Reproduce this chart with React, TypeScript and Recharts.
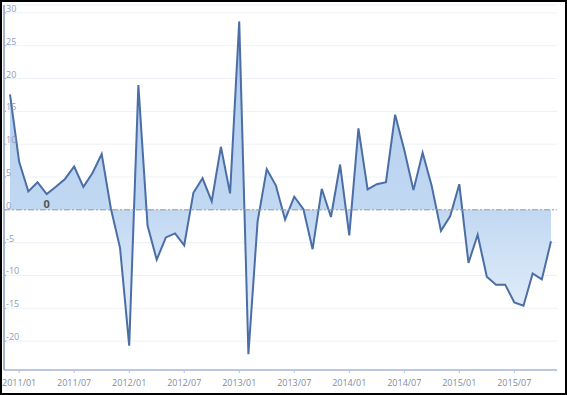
import { AreaChart, Area, XAxis, YAxis, CartesianGrid, ReferenceLine, LabelList } from 'recharts';

const months = [
  '2010/12',
  '2011/01', '2011/02', '2011/03', '2011/04', '2011/05', '2011/06', '2011/07', '2011/08', '2011/09', '2011/10', '2011/11', '2011/12',
  '2012/01', '2012/02', '2012/03', '2012/04', '2012/05', '2012/06', '2012/07', '2012/08', '2012/09', '2012/10', '2012/11', '2012/12',
  '2013/01', '2013/02', '2013/03', '2013/04', '2013/05', '2013/06', '2013/07', '2013/08', '2013/09', '2013/10', '2013/11', '2013/12',
  '2014/01', '2014/02', '2014/03', '2014/04', '2014/05', '2014/06', '2014/07', '2014/08', '2014/09', '2014/10', '2014/11', '2014/12',
  '2015/01', '2015/02', '2015/03', '2015/04', '2015/05', '2015/06', '2015/07', '2015/08', '2015/09', '2015/10', '2015/11',
];

const growth = [
  17.6,
  7.3, 2.8, 4.2, 2.4, 3.5, 4.7, 6.6, 3.5, 5.6, 8.5, 0.2, -5.8,
  -20.7, 19.0, -2.4, -7.6, -4.2, -3.6, -5.4, 2.6, 4.8, 1.3, 9.6, 2.5,
  28.7, -22.0, -1.8, 6.2, 3.7, -1.5, 2.0, 0.1, -6.0, 3.2, -1.1, 6.9,
  -3.9, 12.4, 3.1, 3.9, 4.2, 14.5, 9.1, 3.0, 8.7, 3.6, -3.2, -1.0,
  3.9, -8.1, -3.8, -10.2, -11.4, -11.4, -14.1, -14.6, -9.7, -10.6, -4.8,
];

const xTicks = ['2011/01', '2011/07', '2012/01', '2012/07', '2013/01', '2013/07', '2014/01', '2014/07', '2015/01', '2015/07'];
const yTicks = [-20, -15, -10, -5, 0, 5, 10, 15, 20, 25, 30];

const data = months.map((month, i) => ({ month, value: growth[i] }));

const font = '"Open Sans", "Noto Sans", sans-serif';

const YTick = ({ x, y, payload }: any) => (
  <g>
    <line x1={x} x2={x + 2} y1={y} y2={y} stroke="#9aabcb" />
    <text x={x + 2} y={y - 1} fontSize={9} fill="#8c9dc2" fontFamily={font} textAnchor="start">
      {payload.value}
    </text>
  </g>
);

// the lone bold "0" sitting under the April 2011 point
const PointNote = (props: any) => {
  const { x, y, index } = props;
  if (index !== 4) return null;
  return (
    <text x={x} y={y + 14} textAnchor="middle" fontSize={11} fontWeight="bold" fill="#555" fontFamily={font}>
      0
    </text>
  );
};

export default function App() {
  return (
    <div
      style={{
        position: 'absolute',
        left: 0,
        top: 0,
        width: 567,
        height: 395,
        boxSizing: 'border-box',
        border: '2px solid #000',
        background: '#fff',
      }}
    >
      <AreaChart width={563} height={391} data={data} margin={{ top: 3, right: 8, bottom: 3, left: 0 }}>
        <defs>
          <linearGradient id="areaFill" x1="0" y1="0" x2="0" y2="1">
            <stop offset="0%" stopColor="#aecbed" />
            <stop offset="56%" stopColor="#c1d8f2" />
            <stop offset="100%" stopColor="#eef4fc" />
          </linearGradient>
        </defs>
        <CartesianGrid vertical={false} stroke="#edf1f7" />
        <XAxis
          dataKey="month"
          ticks={xTicks}
          interval={0}
          padding={{ left: 6, right: 6 }}
          height={20}
          tickSize={3}
          tickMargin={7}
          axisLine={{ stroke: '#a7b8d8', strokeWidth: 1.5 }}
          tickLine={{ stroke: '#b5c3dd' }}
          tick={{ fontSize: 9, fill: '#7f8ca3', fontFamily: font }}
        />
        <YAxis
          type="number"
          domain={[-24.4, 31.2]}
          ticks={yTicks}
          width={2}
          tickSize={0}
          tickMargin={0}
          tickLine={false}
          axisLine={{ stroke: '#8a9bbf', strokeWidth: 1.5 }}
          tick={<YTick />}
        />
        <ReferenceLine y={0} stroke="#9a9a9a" strokeDasharray="6 2 2 2" />
        <Area
          type="linear"
          dataKey="value"
          baseValue={0}
          stroke="#4a6ea5"
          strokeWidth={2}
          fill="url(#areaFill)"
          fillOpacity={1}
          dot={false}
          activeDot={false}
          isAnimationActive={false}
        >
          <LabelList dataKey="value" content={<PointNote />} />
        </Area>
      </AreaChart>
    </div>
  );
}
